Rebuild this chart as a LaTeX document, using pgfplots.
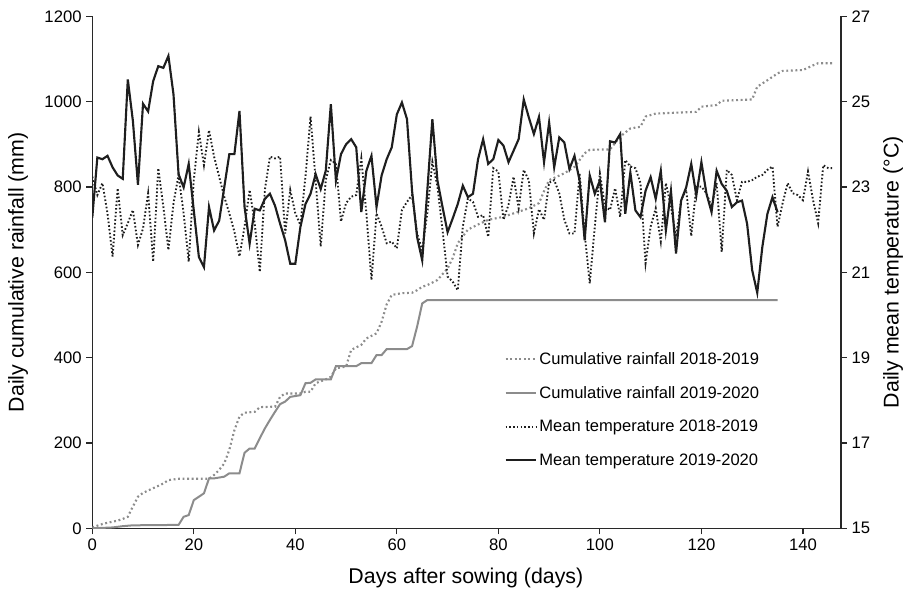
\documentclass[border=0pt]{standalone}
\usepackage{fontspec}
\setmainfont{Liberation Sans}
\usepackage{pgfplots}
\pgfplotsset{compat=1.18}
\definecolor{raingray}{RGB}{140,140,140}
\definecolor{tempblack}{RGB}{30,30,30}
\definecolor{axisgray}{RGB}{40,40,40}

\pgfplotsset{
  base/.style={
    scale only axis, width=561.5pt, height=384pt,
    xmin=0, xmax=147.5,
    tick align=outside, major tick length=4.5pt,
    tick style={axisgray, line width=0.9pt},
    axis line style={axisgray, line width=1pt},
    ticklabel style={font=\fontsize{12.5}{14}\selectfont},
    label style={font=\fontsize{16}{19}\selectfont, inner sep=0pt},
    /pgf/number format/assume math mode=true,
    /pgf/number format/set thousands separator={},
  },
  rainA/.style={raingray, line width=1.6pt, dash pattern=on 1.4pt off 2pt},
  rainB/.style={raingray, line width=1.5pt},
  tempA/.style={tempblack, line width=1.4pt, dash pattern=on 1.2pt off 1.6pt},
  tempB/.style={tempblack, line width=1.6pt},
}

% cumulative rainfall (mm)
\pgfplotstableread{
day rain
0 2
2 10
3 13
5 18
6 22
7 27
8 51
9 74
10 83
12 94
14 105
15 113
17 116
23 116
24 125
25 137
26 152
27 184
28 230
29 262
30 271
32 273
33 284
36 285
37 308
38 316
41 316
42 320
43 320
44 340
46 349
47 355
48 375
50 379
51 418
53 430
54 445
56 457
57 484
58 525
59 547
61 551
63 552
64 558
65 566
66 570
68 582
70 609
71 633
72 668
74 700
76 712
78 723
81 730
84 742
86 750
88 762
89 790
90 816
93 832
95 847
97 879
98 887
102 888
103 903
104 918
106 937
108 941
109 965
111 972
119 976
120 988
123 992
124 1002
130 1005
131 1035
133 1050
135 1066
136 1072
140 1074
142 1085
143 1090
146 1090
}\rainA

\pgfplotstableread{
day rain
0 0
4 2
6 5
8 7
17 8
18 27
19 31
20 66
21 74
22 82
23 117
24 117
26 121
27 129
29 129
30 177
31 187
32 187
33 211
34 234
35 254
36 273
37 291
38 297
39 308
41 312
42 340
43 341
44 349
47 349
48 380
52 380
53 387
55 387
56 406
57 406
58 420
62 420
63 427
64 473
65 527
66 535
135 535
}\rainB

% daily mean temperature (deg C)
\pgfplotstableread{
day temp
0 23.24
1 22.81
2 23.09
3 22.38
4 21.37
5 22.97
6 21.87
7 22.15
8 22.46
9 21.64
10 22.03
11 22.85
12 21.25
13 23.44
14 22.54
15 21.52
16 22.62
17 23.28
18 22.38
19 21.25
20 23.16
21 24.29
22 23.51
23 24.33
24 23.71
25 23.24
26 22.77
27 22.38
28 21.95
29 21.37
30 22.07
31 22.93
32 22.15
33 21.01
34 22.93
35 23.71
36 23.67
37 23.71
38 21.91
39 22.93
40 22.38
41 22.11
42 23.24
43 24.65
44 23.16
45 21.6
46 23.16
47 23.63
48 23.55
49 22.19
50 22.62
51 22.77
52 22.81
53 23.67
54 22.38
55 20.82
56 22.38
57 22.07
58 21.68
59 21.72
60 21.56
61 22.46
62 22.65
63 22.81
64 21.91
65 21.52
66 22.38
67 23.59
68 23.01
69 21.99
70 20.9
71 20.78
72 20.58
73 22.07
74 22.73
75 22.65
76 22.3
77 22.34
78 21.83
79 23.44
80 23.36
81 22.23
82 22.58
83 23.24
84 22.5
85 23.4
86 23.16
87 21.91
88 22.48
89 22.23
90 23.1
91 23.16
92 22.85
93 22.23
94 21.91
95 21.91
96 23.32
97 21.91
98 20.74
99 22.07
100 23.32
101 22.54
102 22.46
103 22.97
104 22.3
105 23.63
106 23.48
107 23.44
108 23.09
109 21.21
110 22.07
111 22.5
112 21.72
113 23.09
114 22.54
115 21.83
116 22.69
117 22.93
118 21.85
119 23.0
120 23.01
121 22.85
122 22.54
123 23.09
124 21.48
125 23.4
126 23.28
127 22.69
128 23.12
129 23.12
130 23.16
131 23.24
132 23.28
133 23.4
134 23.48
135 22.07
136 22.62
137 23.09
138 22.85
139 22.81
140 22.69
141 23.36
142 22.69
143 22.15
144 23.51
145 23.44
146 23.44
}\tempA

\pgfplotstableread{
day temp
0 22.28
1 23.69
2 23.65
3 23.73
4 23.46
5 23.27
6 23.19
7 25.52
8 24.55
9 23.05
10 24.95
11 24.77
12 25.48
13 25.83
14 25.79
15 26.07
16 25.17
17 23.3
18 22.99
19 23.54
20 22.45
21 21.36
22 21.12
23 22.53
24 21.98
25 22.21
26 22.99
27 23.77
28 23.77
29 24.78
30 22.53
31 21.67
32 22.49
33 22.45
34 22.72
35 22.84
36 22.56
37 22.14
38 21.75
39 21.2
40 21.2
41 22.06
42 22.6
43 22.84
44 23.3
45 22.95
46 23.38
47 24.94
48 23.15
49 23.77
50 24.0
51 24.12
52 23.93
53 22.41
54 23.38
55 23.73
56 22.53
57 23.27
58 23.65
59 23.93
60 24.7
61 24.98
62 24.59
63 22.91
64 21.82
65 21.28
66 22.91
67 24.59
68 23.15
69 22.53
70 21.94
71 22.26
72 22.6
73 23.03
74 22.76
75 22.84
76 23.65
77 24.12
78 23.54
79 23.65
80 24.1
81 23.97
82 23.58
83 23.85
84 24.12
85 25.05
86 24.63
87 24.24
88 24.64
89 23.58
90 24.51
91 23.46
92 24.16
93 24.04
94 23.42
95 23.73
96 23.15
97 21.75
98 23.27
99 22.84
100 23.15
101 22.17
102 24.07
103 24.04
104 24.24
105 22.37
106 23.34
107 22.45
108 22.29
109 22.91
110 23.23
111 22.72
112 23.38
113 21.98
114 22.91
115 21.44
116 22.68
117 22.99
118 23.54
119 22.8
120 23.58
121 22.84
122 22.41
123 23.38
124 23.07
125 22.91
126 22.53
127 22.64
128 22.68
129 22.14
130 21.05
131 20.52
132 21.59
133 22.37
134 22.76
135 22.41
}\tempB

\begin{document}
\begin{tikzpicture}
\begin{axis}[
    base,
    name=main,
    ymin=0, ymax=1200,
    ytick={0,200,...,1200},
    xtick={0,20,...,140},
    axis x line*=bottom,
    axis y line*=left,
    xlabel={Days after sowing (days)},
    ylabel={Daily cumulative rainfall (mm)},
    xlabel style={at={(axis description cs:0.499,-0.097)}, anchor=center},
    ylabel style={at={(axis description cs:-0.0992,0.5)}, anchor=center},
]
\addplot[rainA] table[x=day, y=rain] {\rainA};
\addplot[rainB] table[x=day, y=rain] {\rainB};
\end{axis}
\begin{axis}[
    base,
    ymin=15, ymax=27,
    ytick={15,17,...,27},
    axis y line*=right,
    axis x line=none,
    ylabel={Daily mean temperature (°C)},
    ylabel style={at={(axis description cs:1.0695,0.5)}, anchor=center},
    legend style={at={(rel axis cs:0.545,0.355)}, anchor=north west, draw=none, fill=none,
      font=\fontsize{12.4}{14}\selectfont, row sep=11pt, cells={anchor=west}},
    legend image code/.code={\draw[#1] (0pt,0pt) -- (22.5pt,0pt);},
]
\addlegendimage{rainA}
\addlegendentry{Cumulative rainfall 2018-2019}
\addlegendimage{rainB}
\addlegendentry{Cumulative rainfall 2019-2020}
\addplot[tempA] table[x=day, y=temp] {\tempA};
\addlegendentry{Mean temperature 2018-2019}
\addplot[tempB] table[x=day, y=temp] {\tempB};
\addlegendentry{Mean temperature 2019-2020}
\end{axis}
\pgfresetboundingbox
\path[use as bounding box] ([xshift=-69.2pt,yshift=-48.5pt]main.south west)
  rectangle ([xshift=49.5pt,yshift=12.2pt]main.north east);
\end{tikzpicture}
\end{document}
